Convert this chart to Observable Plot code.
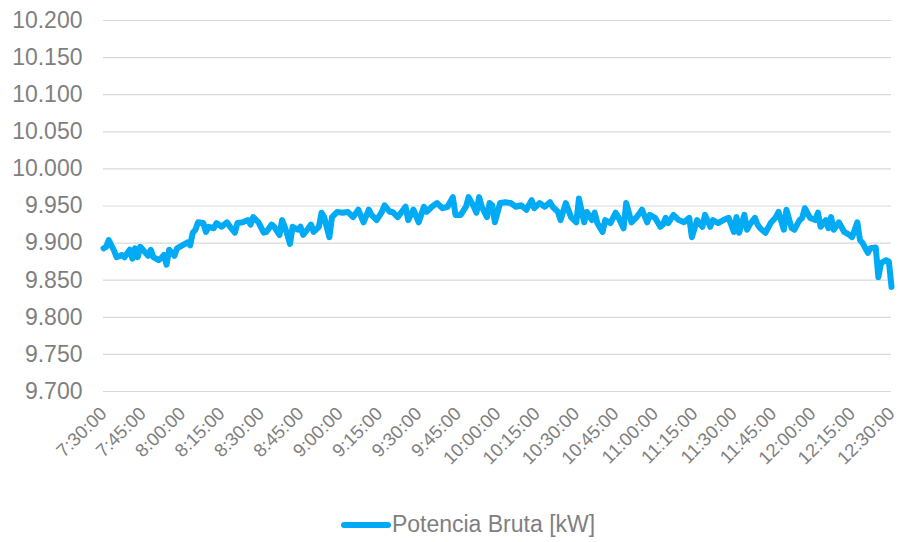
<!DOCTYPE html>
<html><head><meta charset="utf-8">
<script src="https://cdn.jsdelivr.net/npm/d3@7"></script>
<script src="https://cdn.jsdelivr.net/npm/@observablehq/plot@0.6"></script>
<style>
body{margin:0;background:#fff;font-family:"Liberation Sans",Arial,sans-serif;}
#chart{width:898px;height:542px;position:relative;overflow:hidden}
.legend{position:absolute;left:0;width:898px;top:511px;padding-left:38px;box-sizing:border-box;display:flex;justify-content:center;align-items:center;color:#7f7f7f;font-size:23px;font-family:"Liberation Sans",Arial,sans-serif}
.swatch{width:50px;height:6px;background:#00aaf5;border-radius:3px;margin-right:1px}
</style></head><body><div id="chart"></div>
<script>
const startTime = "7:30:00";
const minutesAfterStart = [0,1,2,4,5,7,8,10,11,12,13,14,15,17,18,19,21,22,23,24,25,27,28,31,32,33,34,35,36,38,39,40,42,43,45,47,48,50,51,53,55,56,57,59,61,62,64,65,67,68,69,70,71,72,74,75,76,78,79,80,82,83,84,86,87,89,91,93,95,97,99,101,102,104,106,107,109,110,112,115,116,118,120,122,123,125,127,129,131,133,134,136,138,139,141,142,143,144,146,147,148,149,151,153,155,157,159,161,163,164,166,168,170,171,173,174,176,178,180,181,183,184,186,187,188,190,191,193,195,196,198,199,201,203,205,207,208,210,212,213,214,215,217,219,221,223,224,226,228,229,231,232,234,236,238,240,241,242,244,245,246,248,249,250,252,254,256,257,259,260,262,263,265,266,267,269,271,272,273,275,276,277,278,280,282,284,285,287,288,289,291,292,294,295,296,298,299,300];
const potenciaBruta = [9.893,9.895,9.904,9.890,9.881,9.884,9.881,9.891,9.879,9.893,9.881,9.895,9.891,9.883,9.891,9.881,9.877,9.880,9.884,9.871,9.891,9.883,9.893,9.899,9.901,9.897,9.914,9.918,9.928,9.927,9.915,9.922,9.920,9.927,9.922,9.928,9.923,9.914,9.927,9.928,9.931,9.925,9.935,9.928,9.914,9.915,9.925,9.922,9.911,9.931,9.922,9.911,9.899,9.922,9.918,9.922,9.911,9.920,9.925,9.915,9.922,9.941,9.935,9.908,9.935,9.942,9.941,9.942,9.935,9.945,9.928,9.945,9.938,9.931,9.942,9.951,9.942,9.942,9.935,9.949,9.931,9.945,9.928,9.949,9.942,9.949,9.954,9.947,9.949,9.962,9.938,9.938,9.949,9.962,9.949,9.941,9.962,9.949,9.935,9.954,9.951,9.928,9.954,9.955,9.954,9.949,9.951,9.945,9.958,9.947,9.954,9.949,9.955,9.949,9.942,9.931,9.954,9.935,9.928,9.960,9.928,9.942,9.931,9.941,9.927,9.915,9.931,9.927,9.941,9.935,9.920,9.954,9.928,9.935,9.945,9.928,9.938,9.934,9.922,9.925,9.934,9.927,9.938,9.931,9.928,9.934,9.908,9.931,9.922,9.938,9.922,9.931,9.927,9.931,9.934,9.915,9.935,9.914,9.938,9.918,9.925,9.934,9.925,9.920,9.914,9.927,9.935,9.942,9.918,9.945,9.920,9.918,9.931,9.934,9.947,9.934,9.931,9.941,9.922,9.931,9.920,9.935,9.918,9.928,9.915,9.911,9.908,9.928,9.904,9.900,9.887,9.893,9.894,9.854,9.873,9.877,9.875,9.841];
const xTickLabels = ["7:30:00","7:45:00","8:00:00","8:15:00","8:30:00","8:45:00","9:00:00","9:15:00","9:30:00","9:45:00","10:00:00","10:15:00","10:30:00","10:45:00","11:00:00","11:15:00","11:30:00","11:45:00","12:00:00","12:15:00","12:30:00"];
const yTicks = [9.700,9.750,9.800,9.850,9.900,9.950,10.000,10.050,10.100,10.150,10.200];
const seriesName = "Potencia Bruta [kW]";

const toDate = s => { const [h,m,sec] = s.split(":").map(Number); return new Date(Date.UTC(2000,0,1,h,m,sec)); };
const base = toDate(startTime);
const data = minutesAfterStart.map((m,i)=>({t:new Date(base.getTime()+m*60000), v:potenciaBruta[i]}));
const xTicks = xTickLabels.map(toDate);

const plot = Plot.plot({
  width:898, height:480, marginLeft:103, marginRight:7, marginTop:20, marginBottom:89,
  style:{fontFamily:"'Liberation Sans', Arial, sans-serif", color:"#7f7f7f", background:"#fff", overflow:"visible"},
  x:{type:"utc", domain:[xTicks[0], xTicks[xTicks.length-1]]},
  y:{domain:[9.7,10.2]},
  marks:[
    Plot.gridY(yTicks,{stroke:"#d9d9d9", strokeOpacity:1, strokeWidth:1.2}),
    Plot.axisY(yTicks,{tickSize:0, tickPadding:21, tickFormat:d3.format(".3f"), label:null, fontSize:23, fill:"#7f7f7f"}),
    Plot.axisX(xTicks,{tickSize:0, tickPadding:19, dx:0, tickRotate:-45, tickFormat:(d,i)=>xTickLabels[i], label:null, fontSize:18.5, fill:"#7f7f7f"}),
    Plot.line(data,{x:"t", y:"v", stroke:"#00aaf5", strokeWidth:6, strokeLinejoin:"round", strokeLinecap:"round"})
  ]
});
const chart = document.getElementById("chart");
chart.appendChild(plot);
const legend = document.createElement("div");
legend.className = "legend";
legend.innerHTML = '<span class="swatch"></span><span></span>';
legend.lastChild.textContent = seriesName;
chart.appendChild(legend);
</script></body></html>
